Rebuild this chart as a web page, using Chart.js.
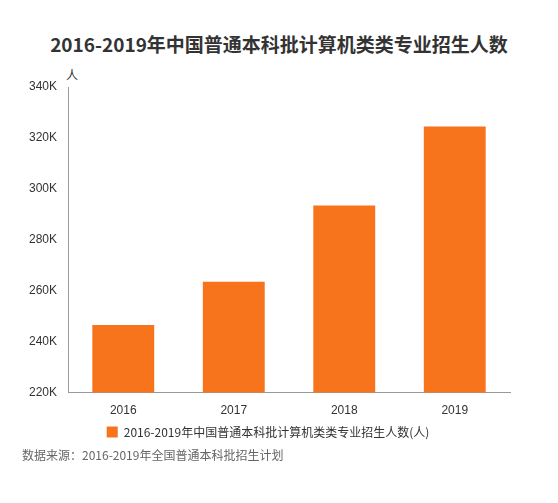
<!DOCTYPE html>
<html><head><meta charset="utf-8">
<script src="https://cdn.jsdelivr.net/npm/chart.js@4"></script>
<style>
body{margin:0;background:#fff;font-family:"Noto Sans CJK SC","Noto Sans",sans-serif;}
#wrap{position:relative;width:558px;height:503px;}
#title{position:absolute;top:30px;left:0;width:558px;text-align:center;font-size:19px;font-weight:bold;color:#333;}
#unit{position:absolute;top:66px;left:66px;font-size:12px;color:#333;}
#src{position:absolute;top:446px;left:22px;font-size:12px;color:#666;}
#box{position:absolute;top:70px;left:0;width:558px;height:378px;}
</style></head><body>
<div id="wrap">
<div id="title">2016-2019年中国普通本科批计算机类类专业招生人数</div>
<div id="unit">人</div>
<div id="box"><canvas id="c"></canvas></div>
<div id="src">数据来源：2016-2019年全国普通本科批招生计划</div>
</div>
<script>
labels = ["2016", "2017", "2018", "2019"];
values = [246500, 263500, 293500, 324500];
seriesName = "2016-2019年中国普通本科批计算机类类专业招生人数(人)";

new Chart(document.getElementById("c"), {
  type: "bar",
  data: {
    labels: labels,
    datasets: [{
      label: seriesName,
      data: values,
      backgroundColor: "#F7731C",
      categoryPercentage: 1,
      barPercentage: 0.56
    }]
  },
  options: {
    responsive: true,
    maintainAspectRatio: false,
    animation: false,
    layout: { padding: { top: 17, right: 48, left: 26 } },
    plugins: {
      legend: {
        position: "bottom",
        labels: { padding: 5, boxWidth: 11, boxHeight: 11, color: "#333", font: { size: 12, family: "Noto Sans CJK SC" } }
      }
    },
    scales: {
      x: {
        grid: { display: false },
        border: { color: "#999" },
        ticks: { color: "#333", font: { size: 12 } }
      },
      y: {
        min: 220000, max: 340000,
        grid: { display: false },
        border: { color: "#999" },
        ticks: {
          stepSize: 20000, color: "#333", font: { size: 12 },
          callback: function (v) { return (v / 1000) + "K"; }
        }
      }
    }
  }
});
</script>
</body></html>
